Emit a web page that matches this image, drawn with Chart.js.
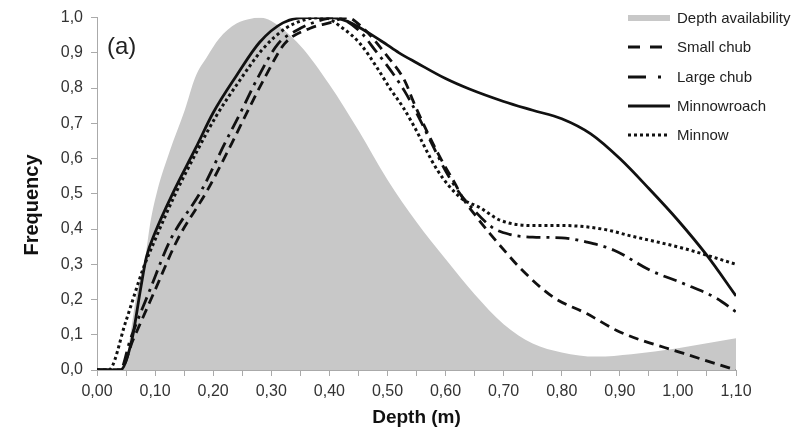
<!DOCTYPE html>
<html>
<head>
<meta charset="utf-8">
<script src="https://cdn.jsdelivr.net/npm/chart.js@4"></script>
<style>
html,body{margin:0;padding:0;background:#fff;}
#wrap{position:relative;width:804px;height:429px;}
</style>
</head>
<body>
<div id="wrap"><canvas id="c" width="804" height="429"></canvas></div>
<script>
// ---- data ----
const availDepth = [0, 0.043, 0.07, 0.083, 0.092, 0.104, 0.125, 0.151, 0.169, 0.19, 0.21, 0.24, 0.265, 0.28, 0.30, 0.35, 0.40, 0.45, 0.50, 0.55, 0.60, 0.65, 0.70, 0.75, 0.80, 0.86, 0.92, 1.00, 1.10];
const availFreq  = [0, 0, 0.23, 0.32, 0.42, 0.51, 0.62, 0.737, 0.83, 0.89, 0.94, 0.983, 0.997, 1.0, 0.99, 0.92, 0.81, 0.68, 0.54, 0.42, 0.315, 0.215, 0.13, 0.075, 0.05, 0.038, 0.045, 0.062, 0.09];

const smallChubDepth = [0, 0.04, 0.062, 0.10, 0.138, 0.19, 0.232, 0.26, 0.289, 0.323, 0.367, 0.40, 0.43, 0.455, 0.50, 0.53, 0.545, 0.573, 0.595, 0.616, 0.63, 0.654, 0.676, 0.706, 0.728, 0.785, 0.843, 0.90, 1.01, 1.10];
const smallChubFreq  = [0, 0, 0.085, 0.227, 0.368, 0.51, 0.643, 0.737, 0.83, 0.926, 0.97, 0.985, 1.0, 0.975, 0.89, 0.82, 0.76, 0.66, 0.59, 0.53, 0.487, 0.433, 0.388, 0.33, 0.29, 0.207, 0.16, 0.108, 0.047, 0.0];

const largeChubDepth = [0, 0.04, 0.057, 0.091, 0.126, 0.18, 0.22, 0.25, 0.277, 0.312, 0.345, 0.38, 0.41, 0.45, 0.48, 0.51, 0.53, 0.55, 0.58, 0.60, 0.625, 0.64, 0.68, 0.71, 0.75, 0.80, 0.843, 0.89, 0.952, 1.01, 1.067, 1.10];
const largeChubFreq  = [0, 0, 0.085, 0.227, 0.368, 0.51, 0.643, 0.74, 0.83, 0.926, 0.965, 0.99, 1.0, 0.965, 0.905, 0.84, 0.79, 0.73, 0.63, 0.565, 0.50, 0.47, 0.405, 0.385, 0.377, 0.375, 0.363, 0.34, 0.283, 0.245, 0.203, 0.165];

const minnowroachDepth = [0, 0.04, 0.06, 0.075, 0.085, 0.10, 0.13, 0.17, 0.20, 0.24, 0.28, 0.32, 0.36, 0.40, 0.43, 0.49, 0.52, 0.55, 0.60, 0.64, 0.70, 0.75, 0.80, 0.85, 0.90, 0.95, 1.00, 1.05, 1.10];
const minnowroachFreq  = [0, 0, 0.085, 0.23, 0.32, 0.39, 0.50, 0.63, 0.73, 0.835, 0.93, 0.985, 1.0, 1.0, 0.99, 0.933, 0.90, 0.872, 0.827, 0.798, 0.762, 0.737, 0.713, 0.67, 0.60, 0.515, 0.425, 0.325, 0.21];

const minnowDepth = [0, 0.02, 0.05, 0.08, 0.10, 0.135, 0.175, 0.205, 0.245, 0.285, 0.325, 0.36, 0.39, 0.423, 0.453, 0.482, 0.504, 0.527, 0.545, 0.586, 0.625, 0.66, 0.694, 0.75, 0.80, 0.87, 0.92, 1.01, 1.10];
const minnowFreq  = [0, 0, 0.14, 0.29, 0.37, 0.50, 0.63, 0.72, 0.82, 0.91, 0.97, 0.995, 1.0, 0.97, 0.926, 0.858, 0.80, 0.745, 0.694, 0.567, 0.49, 0.46, 0.425, 0.41, 0.41, 0.40, 0.38, 0.345, 0.30];

const seriesNames = ['Depth availability', 'Small chub', 'Large chub', 'Minnowroach', 'Minnow'];
const xTickStep = 0.05;
const yTickStep = 0.1;

const pts = (xs, ys) => xs.map((x, i) => ({x: x, y: ys[i]}));
const FONT = "'Liberation Sans', Arial, sans-serif";

const datasets = [
  {label: seriesNames[0], data: pts(availDepth, availFreq), borderWidth: 0, borderColor: 'rgba(0,0,0,0)',
   backgroundColor: '#c8c8c8', fill: 'origin', pointRadius: 0, cubicInterpolationMode: 'monotone', order: 10,
   legendKind: 'area'},
  {label: seriesNames[1], data: pts(smallChubDepth, smallChubFreq), borderColor: '#111', borderWidth: 2.8,
   borderDash: [10, 6], fill: false, pointRadius: 0, cubicInterpolationMode: 'monotone', order: 1, legendDash: [12, 10]},
  {label: seriesNames[2], data: pts(largeChubDepth, largeChubFreq), borderColor: '#111', borderWidth: 2.8,
   borderDash: [14, 6, 3, 6], fill: false, pointRadius: 0, cubicInterpolationMode: 'monotone', order: 1, legendDash: [18, 12, 3, 12]},
  {label: seriesNames[3], data: pts(minnowroachDepth, minnowroachFreq), borderColor: '#111', borderWidth: 2.8,
   borderDash: [], fill: false, pointRadius: 0, cubicInterpolationMode: 'monotone', order: 1, legendDash: []},
  {label: seriesNames[4], data: pts(minnowDepth, minnowFreq), borderColor: '#111', borderWidth: 3,
   borderDash: [3, 3], fill: false, pointRadius: 0, cubicInterpolationMode: 'monotone', order: 1, legendDash: [3, 3]}
];

const fmt = (v, d) => v.toFixed(d).replace('.', ',');

const overlay = {
  id: 'overlay',
  afterDraw(chart) {
    const ctx = chart.ctx;
    ctx.save();
    // y-axis title
    ctx.save();
    ctx.translate(32, 205);
    ctx.rotate(-Math.PI / 2);
    ctx.fillStyle = '#111';
    ctx.font = 'bold 20px ' + FONT;
    ctx.textAlign = 'center';
    ctx.textBaseline = 'middle';
    ctx.fillText('Frequency', 0, 0);
    ctx.restore();
    // panel label
    ctx.fillStyle = '#222';
    ctx.font = '24px ' + FONT;
    ctx.textBaseline = 'middle';
    ctx.textAlign = 'left';
    ctx.fillText('(a)', 107, 47);
    // legend
    const x0 = 628, x1 = 670, tx = 677;
    const rows = [18, 47, 77, 106, 135];
    ctx.font = '15px ' + FONT;
    chart.data.datasets.forEach((ds, i) => {
      const y = rows[i];
      if (ds.legendKind === 'area') {
        ctx.fillStyle = ds.backgroundColor;
        ctx.fillRect(x0, y - 3, x1 - x0, 6);
      } else {
        ctx.strokeStyle = ds.borderColor;
        ctx.lineWidth = ds.borderWidth;
        ctx.setLineDash(ds.legendDash);
        ctx.beginPath();
        ctx.moveTo(x0, y);
        ctx.lineTo(x1, y);
        ctx.stroke();
        ctx.setLineDash([]);
      }
      ctx.fillStyle = '#222';
      ctx.fillText(ds.label, tx, y + 1);
    });
    ctx.restore();
  }
};

new Chart(document.getElementById('c'), {
  type: 'line',
  data: {datasets: datasets},
  plugins: [overlay],
  options: {
    responsive: false,
    animation: false,
    events: [],
    layout: {padding: {top: 17, right: 68, left: 0, bottom: 0}},
    plugins: {legend: {display: false}, tooltip: {enabled: false}},
    scales: {
      x: {
        type: 'linear', min: 0, max: 1.1,
        afterFit: s => { s.height = 59; },
        afterBuildTicks: s => { s.ticks = []; for (let i = 0; i <= 22; i++) s.ticks.push({value: i * xTickStep}); },
        ticks: {
          autoSkip: false, maxRotation: 0, padding: 6, color: '#333',
          font: {family: FONT, size: 16},
          callback: v => (Math.round(v * 100) % 10 === 0 ? fmt(v, 2) : '')
        },
        grid: {display: true, drawOnChartArea: false, drawTicks: true, tickLength: 6, color: '#aaa'},
        border: {display: true, color: '#aaa', width: 1},
        title: {display: true, text: 'Depth (m)', color: '#111', padding: {top: 0, bottom: 0},
                font: {family: FONT, size: 19, weight: 'bold'}}
      },
      y: {
        type: 'linear', min: 0, max: 1,
        afterFit: s => { s.width = 97; },
        ticks: {stepSize: yTickStep, padding: 8, color: '#333', font: {family: FONT, size: 16},
                callback: v => fmt(v, 1)},
        grid: {display: true, drawOnChartArea: false, drawTicks: true, tickLength: 6, color: '#aaa'},
        border: {display: true, color: '#aaa', width: 1},
        title: {display: false}
      }
    }
  }
});
</script>
</body>
</html>
